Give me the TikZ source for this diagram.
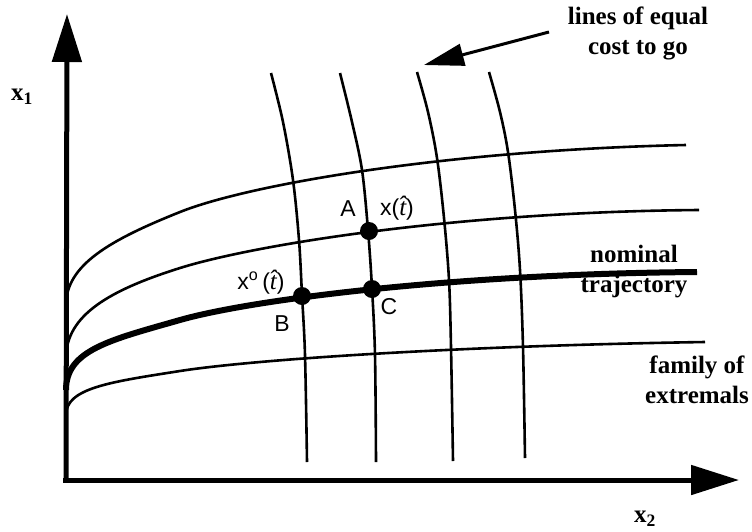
\documentclass[tikz,border=0pt]{standalone}
\usepackage{fontspec}
\setmainfont{Liberation Serif}
\setsansfont{Liberation Sans}
\usetikzlibrary{arrows.meta}
\tikzset{
  axisline/.style={line width=5pt, -{Triangle[length=48pt,width=29pt]}},
  thinline/.style={line width=2.6pt, line join=round},
  thickline/.style={line width=6pt, line join=round},
  dot/.style={circle, fill=black, inner sep=0pt, minimum size=18pt},
  lbl/.style={font=\fontsize{25}{30}\selectfont\bfseries, align=center, inner sep=0pt},
  sanslbl/.style={font=\fontsize{23}{28}\selectfont\sffamily, inner sep=0pt},
  pointer/.style={line width=3pt, -{Triangle[length=40pt,width=22pt]}}
}
\newcommand{\thatit}{{\rmfamily\itshape\fontsize{25}{28}\selectfont\^{t}}}
\begin{document}
\begin{tikzpicture}[x=1pt,y=-1pt]
\useasboundingbox (0,0) rectangle (752,531);
% axes
\coordinate (O) at (66,480);
\coordinate (Ytip) at (67,14);
\coordinate (Xtip) at (739,480);
\draw[axisline] (63,480) -- (Xtip);
\draw[axisline] (66,482.5) -- (Ytip);
% family of extremals
\draw[thinline] (66,305) .. controls (66,265) and (110,240) .. (180,212)
  .. controls (250,184) and (450,150) .. (686,145);
\draw[thinline] (66,358) .. controls (66,315) and (110,290) .. (180,268)
  .. controls (250,246) and (450,212) .. (699,210);
\draw[thickline] (66,390) .. controls (66,350) and (110,340) .. (180,320)
  .. controls (250,300) and (450,274) .. (697,272);
\draw[thinline] (66,415) .. controls (66,388) and (110,382) .. (180,371)
  .. controls (250,360) and (450,346) .. (705,342);
% lines of equal cost to go
\draw[thinline] plot[smooth, tension=0.55] coordinates {(271,73) (283,122) (293,180) (299,240) (302,295) (305,355) (307,462)};
\draw[thinline] plot[smooth, tension=0.55] coordinates {(340,73) (352,122) (362,170) (368,230) (372,288) (375,355) (376,462)};
\draw[thinline] plot[smooth, tension=0.55] coordinates {(417,72) (428,112) (437,158) (444,218) (449,280) (451,347) (453,461)};
\draw[thinline] plot[smooth, tension=0.55] coordinates {(489,72) (500,112) (508,152) (515,210) (520,270) (523,347) (525,458)};
% points
\node[dot] (A) at (369,231) {};
\node[dot] (B) at (302,296) {};
\node[dot] (C) at (372,289) {};
\node[sanslbl] (Alab) at (348,209) {A};
\node[sanslbl] (Blab) at (282,324) {B};
\node[sanslbl] (Clab) at (389,307) {C};
\node[sanslbl] (xt) at (397,208) {x(\thatit)};
\node[sanslbl] (xot) at (261,282) {x\textsuperscript{o}\,(\thatit)};
% labels
\node[lbl] (x1) at (22,97) {x\textsubscript{1}};
\node[lbl] (x2) at (645,519) {x\textsubscript{2}};
\node[lbl] (cost) at (638,33) {lines of equal\\cost to go};
\node[lbl] (nom) at (634,272) {nominal\\trajectory};
\node[lbl] (fam) at (697,380) {family of\\extremals};
\coordinate (ptail) at (549,32);
\coordinate (ptip) at (424,65);
\draw[pointer] (ptail) -- (ptip);
\end{tikzpicture}
\end{document}
